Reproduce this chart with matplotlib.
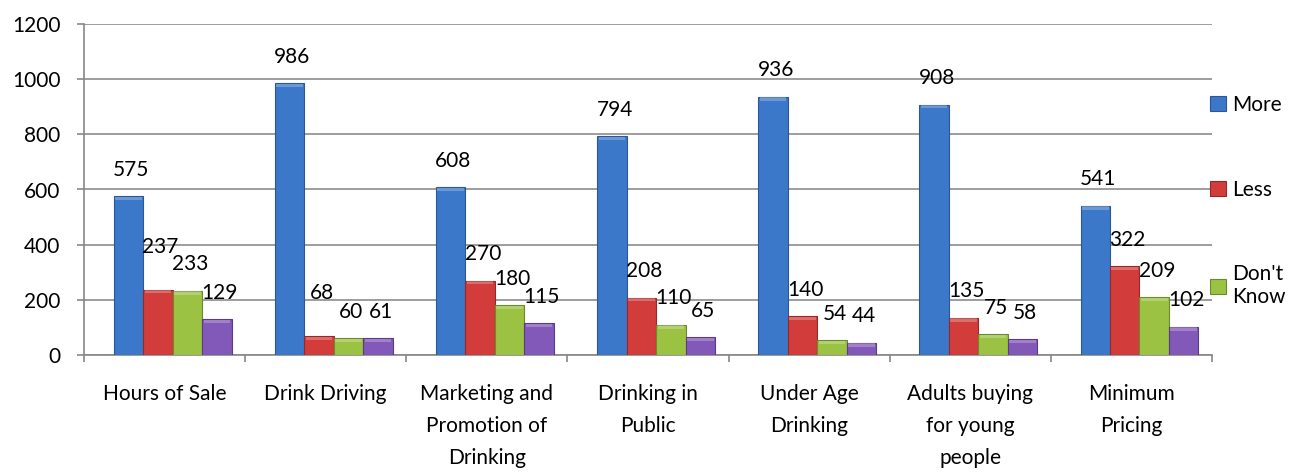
#!/usr/bin/env python3
import numpy as np
import matplotlib
matplotlib.use("Agg")
import matplotlib.pyplot as plt


CATEGORIES = ["Hours of Sale", "Drink Driving", "Marketing and\nPromotion of\nDrinking",
              "Drinking in\nPublic", "Under Age\nDrinking", "Adults buying\nfor young\npeople",
              "Minimum\nPricing"]
MORE = [575, 986, 608, 794, 936, 908, 541]
LESS = [237, 68, 270, 208, 140, 135, 322]
DONT_KNOW = [233, 60, 180, 110, 54, 75, 209]
FOURTH = [129, 61, 115, 65, 44, 58, 102]

SERIES = [("More", MORE, "#3b78c9", "#2a5896"),
          ("Less", LESS, "#d23c3a", "#97282a"),
          ("Don't\nKnow", DONT_KNOW, "#9cc243", "#6b8a2a"),
          ("_nolegend_", FOURTH, "#8258b8", "#5a3c86")]


def main():
    plt.rcParams['font.family'] = ['Lato', 'DejaVu Sans']
    fs = 15
    fig = plt.figure(figsize=(13, 4.75), dpi=100)
    ax = fig.add_axes([84 / 1300, 1 - 355 / 475, (1212 - 84) / 1300, (355 - 24) / 475])

    x = np.arange(len(CATEGORIES))
    w = 0.183
    shift = 0.05
    all_vals = [s[1] for s in SERIES]
    for i, (name, vals, col, edge) in enumerate(SERIES):
        pos = x + (i - 1.5) * w + shift
        bars = ax.bar(pos, vals, width=w, color=col, edgecolor=edge, linewidth=0.8,
                      label=name, zorder=3)
        # light bevel on top of each bar
        ax.bar(pos, [12] * len(vals), width=w * 0.9, bottom=[v - 14 for v in vals],
               color="white", alpha=0.25, linewidth=0, zorder=4)
        for j, (b, v) in enumerate(zip(bars, vals)):
            dy = 19
            # lift a label when the next bar is almost as tall, so they don't collide
            if i < len(SERIES) - 1 and 0 <= v - all_vals[i + 1][j] < 10:
                dy += 12
            ax.annotate(str(v), (b.get_x() + b.get_width() / 2, v), xytext=(2, dy),
                        textcoords="offset points", ha="center", va="center",
                        fontsize=fs, color="black", zorder=5)

    ax.set_xlim(-0.5, len(CATEGORIES) - 0.5)
    ax.set_ylim(0, 1200)
    ax.set_yticks(range(0, 1201, 200))
    ax.set_xticks(x)
    ax.set_xticklabels(CATEGORIES, fontsize=fs, linespacing=1.75)
    ax.set_xticks(np.arange(len(CATEGORIES) + 1) - 0.5, minor=True)
    ax.tick_params(axis="x", which="major", length=0, pad=21)
    ax.tick_params(axis="x", which="minor", length=5, color="#888888", width=1.2)
    ax.tick_params(axis="y", length=5, color="#888888", width=1.2, labelsize=fs, pad=12)

    ax.grid(axis="y", color="#8c8c8c", linewidth=1.2, zorder=0)
    for s in ["top", "right"]:
        ax.spines[s].set_visible(False)
    for s in ["left", "bottom"]:
        ax.spines[s].set_color("#888888")
        ax.spines[s].set_linewidth(1.2)

    fig.legend(loc="upper left", bbox_to_anchor=(1210 / 1300, 1 - 95 / 475), frameon=False,
               fontsize=fs, labelspacing=3.1, handlelength=0.75, handleheight=0.75,
               handletextpad=0.3, borderaxespad=0, borderpad=0)

    fig.savefig("out.png", dpi=100, facecolor="white")


if __name__ == '__main__':
    main()
